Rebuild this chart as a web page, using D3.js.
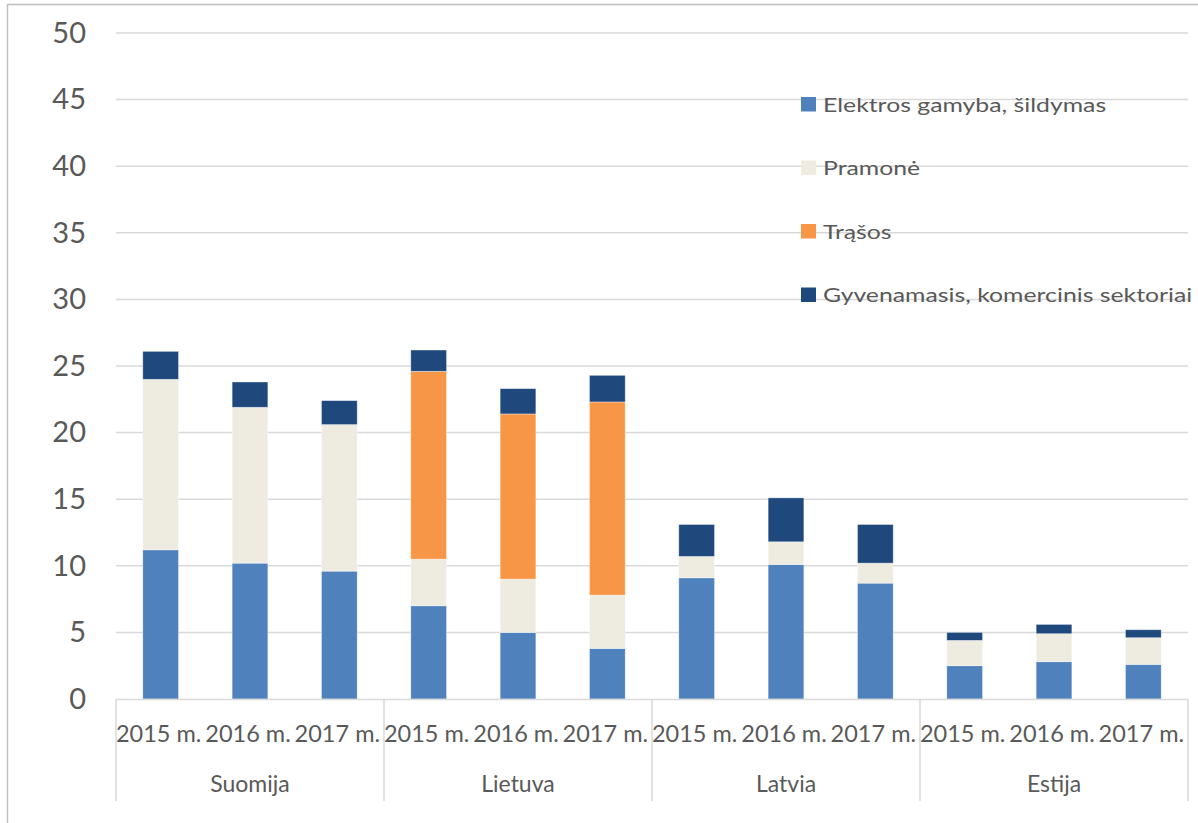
<!DOCTYPE html>
<html>
<head>
<meta charset="utf-8">
<script src="https://cdn.jsdelivr.net/npm/d3@7"></script>
<style>
  body { margin: 0; background: #fff; }
  text { font-family: Lato, "Open Sans", sans-serif; fill: #595959; }
</style>
</head>
<body>
<div id="vis"></div>
<script>
// chart data
var countries = ["Suomija", "Lietuva", "Latvia", "Estija"];
var years = ["2015 m.", "2016 m.", "2017 m."];
var seriesNames = ["Elektros gamyba, šildymas", "Pramonė", "Trąšos", "Gyvenamasis, komercinis sektoriai"];
var seriesColors = ["#4f81bd", "#eeece1", "#f79646", "#1f497d"];

// values per country, in year order
var elektros = [[11.2, 10.2, 9.6], [7.0, 5.0, 3.8], [9.1, 10.1, 8.7], [2.5, 2.8, 2.6]];
var pramone = [[12.8, 11.7, 11.0], [3.5, 4.0, 4.0], [1.6, 1.7, 1.5], [1.9, 2.1, 2.0]];
var trasos = [[0, 0, 0], [14.1, 12.4, 14.5], [0, 0, 0], [0, 0, 0]];
var gyvenamasis = [[2.1, 1.9, 1.8], [1.6, 1.9, 2.0], [2.4, 3.3, 2.9], [0.6, 0.7, 0.6]];
var yTicks = [0, 5, 10, 15, 20, 25, 30, 35, 40, 45, 50];

var W = 1198, H = 823;
var plot = { left: 116, right: 1188, top: 33, bottom: 699 };

var svg = d3.select("#vis").append("svg")
  .attr("width", W)
  .attr("height", H);

// outer frame
svg.append("rect")
  .attr("x", 7.5).attr("y", 4.5)
  .attr("width", 1300).attr("height", 900)
  .attr("fill", "none")
  .attr("stroke", "#bfbfbf")
  .attr("stroke-width", 1.5);

var y = d3.scaleLinear().domain([0, 50]).range([plot.bottom, plot.top]);
var xGroup = d3.scaleBand().domain(countries).range([plot.left, plot.right]);
var xYear = d3.scaleBand().domain(years).range([0, xGroup.bandwidth()])
  .paddingInner(0.6).paddingOuter(0.3);

// gridlines
svg.append("g").selectAll("line")
  .data(yTicks.filter(function (d) { return d > 0; }))
  .enter().append("line")
  .attr("x1", plot.left).attr("x2", plot.right)
  .attr("y1", function (d) { return y(d); })
  .attr("y2", function (d) { return y(d); })
  .attr("stroke", "#d9d9d9")
  .attr("stroke-width", 1.5);

// y axis labels
var yAxis = d3.axisLeft(y).tickValues(yTicks).tickSize(0).tickPadding(0);
var yg = svg.append("g")
  .attr("transform", "translate(" + 86 + ",0)")
  .call(yAxis);
yg.select(".domain").remove();
yg.selectAll("text")
  .style("font-size", "29px")
  .attr("fill", "#595959");

// stacked bars
var rows = [];
countries.forEach(function (c, ci) {
  years.forEach(function (yr, yi) {
    rows.push({
      country: c, year: yr,
      vals: [elektros[ci][yi], pramone[ci][yi], trasos[ci][yi], gyvenamasis[ci][yi]]
    });
  });
});

var bars = svg.append("g");
rows.forEach(function (r) {
  var x0 = xGroup(r.country) + xYear(r.year);
  var base = 0;
  r.vals.forEach(function (v, si) {
    if (v > 0) {
      bars.append("rect")
        .attr("x", x0)
        .attr("y", y(base + v))
        .attr("width", xYear.bandwidth())
        .attr("height", y(base) - y(base + v))
        .attr("fill", seriesColors[si])
        .attr("stroke", "#ffffff")
        .attr("stroke-opacity", 0.5)
        .attr("stroke-width", 0.75);
    }
    base += v;
  });
});

// category axis
var axisG = svg.append("g");
axisG.append("line")
  .attr("x1", plot.left).attr("x2", plot.right)
  .attr("y1", plot.bottom + 0.5).attr("y2", plot.bottom + 0.5)
  .attr("stroke", "#d9d9d9").attr("stroke-width", 1.5);

var dividers = countries.map(function (c) { return xGroup(c); }).concat([plot.right]);
axisG.selectAll(".div")
  .data(dividers)
  .enter().append("line")
  .attr("x1", function (d) { return d; })
  .attr("x2", function (d) { return d; })
  .attr("y1", plot.bottom)
  .attr("y2", 801)
  .attr("stroke", "#d9d9d9").attr("stroke-width", 1.5);

rows.forEach(function (r) {
  axisG.append("text")
    .attr("x", xGroup(r.country) + xYear(r.year) + xYear.bandwidth() / 2 - 2)
    .attr("y", 742)
    .attr("text-anchor", "middle")
    .style("font-size", "23.5px")
    .text(r.year);
});

axisG.selectAll(".country")
  .data(countries)
  .enter().append("text")
  .attr("x", function (d) { return xGroup(d) + xGroup.bandwidth() / 2; })
  .attr("y", 792)
  .attr("text-anchor", "middle")
  .style("font-size", "23px")
  .text(function (d) { return d; });

// legend (text is drawn a bit wider than tall, like the source)
var legend = svg.append("g");
seriesNames.forEach(function (name, i) {
  var base = 111.5 + i * 63.5;
  legend.append("rect")
    .attr("x", 801).attr("y", base - 14.5)
    .attr("width", 15).attr("height", 14.5)
    .attr("fill", seriesColors[i]);
  legend.append("g")
    .attr("transform", "translate(823," + base + ") scale(1.24,1)")
    .append("text")
    .attr("x", 0).attr("y", 0)
    .style("font-size", "20px")
    .text(name);
});
</script>
</body>
</html>
